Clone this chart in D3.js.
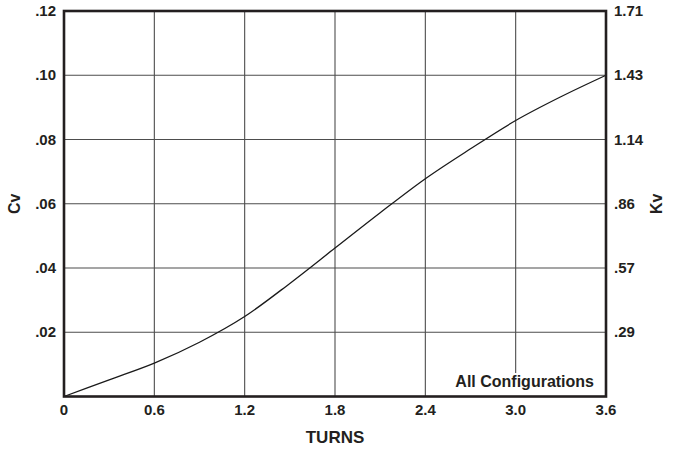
<!DOCTYPE html>
<html>
<head>
<meta charset="utf-8">
<script src="https://cdn.jsdelivr.net/npm/d3@7"></script>
<style>
  body { margin: 0; background: #fff; }
  svg text { font-family: "Liberation Sans", Arial, sans-serif; font-weight: bold; fill: #231f20; }
</style>
</head>
<body>
<svg id="chart" width="678" height="449"></svg>
<script>
// values
const turns = [0, 0.3, 0.6, 0.9, 1.2, 1.5, 1.8, 2.1, 2.4, 2.7, 3.0, 3.3, 3.6];
const cv = [0, 0.0052, 0.0104, 0.0169, 0.0249, 0.0352, 0.0462, 0.0572, 0.0678, 0.0771, 0.0859, 0.0933, 0.10];

const xTicks = [0, 0.6, 1.2, 1.8, 2.4, 3.0, 3.6];
const xTickLabels = ["0", "0.6", "1.2", "1.8", "2.4", "3.0", "3.6"];
const cvTicks = [0.02, 0.04, 0.06, 0.08, 0.10, 0.12];
const cvTickLabels = [".02", ".04", ".06", ".08", ".10", ".12"];
const kvTickLabels = [".29", ".57", ".86", "1.14", "1.43", "1.71"];

const M = { left: 64, right: 606, top: 11, bottom: 396.5 };

const svg = d3.select("#chart");

const x = d3.scaleLinear().domain([0, 3.6]).range([M.left, M.right]);
const y = d3.scaleLinear().domain([0, 0.12]).range([M.bottom, M.top]);

// grid
const grid = svg.append("g").attr("stroke", "#4d4d4d").attr("stroke-width", 1.1);
grid.selectAll(".vgrid")
    .data(xTicks.slice(1, -1))
    .enter()
    .append("line")
    .attr("class", "vgrid")
    .attr("x1", d => x(d)).attr("x2", d => x(d))
    .attr("y1", M.top).attr("y2", M.bottom);
grid.selectAll(".hgrid")
    .data(cvTicks.slice(0, -1))
    .enter()
    .append("line")
    .attr("class", "hgrid")
    .attr("x1", M.left).attr("x2", M.right)
    .attr("y1", d => y(d)).attr("y2", d => y(d));

// curve
const line = d3.line()
    .x((d, i) => x(turns[i]))
    .y(d => y(d))
    .curve(d3.curveMonotoneX);
svg.append("path")
    .datum(cv)
    .attr("d", line)
    .attr("fill", "none")
    .attr("stroke", "#1a1a1a")
    .attr("stroke-width", 1.3);

// note with white background
const note = svg.append("text")
    .attr("x", 594)
    .attr("y", 387)
    .attr("text-anchor", "end")
    .attr("font-size", 16)
    .text("All Configurations");
const bb = note.node().getBBox();
svg.insert("rect", "text")
    .attr("x", bb.x - 3).attr("y", bb.y)
    .attr("width", bb.width + 6).attr("height", M.bottom - bb.y)
    .attr("fill", "#fff");

// frame
svg.append("rect")
    .attr("x", M.left).attr("y", M.top)
    .attr("width", M.right - M.left).attr("height", M.bottom - M.top)
    .attr("fill", "none")
    .attr("stroke", "#231f20")
    .attr("stroke-width", 2.6);

// x labels
svg.selectAll(".xlab")
    .data(xTicks)
    .enter()
    .append("text")
    .attr("class", "xlab")
    .attr("x", d => x(d))
    .attr("y", 415)
    .attr("text-anchor", "middle")
    .attr("font-size", 15)
    .text((d, i) => xTickLabels[i]);

// left labels
svg.selectAll(".cvlab")
    .data(cvTicks)
    .enter()
    .append("text")
    .attr("class", "cvlab")
    .attr("x", 56)
    .attr("y", d => y(d) + 5)
    .attr("text-anchor", "end")
    .attr("font-size", 15)
    .text((d, i) => cvTickLabels[i]);

// right labels
svg.selectAll(".kvlab")
    .data(cvTicks)
    .enter()
    .append("text")
    .attr("class", "kvlab")
    .attr("x", 614)
    .attr("y", d => y(d) + 5)
    .attr("text-anchor", "start")
    .attr("font-size", 15)
    .text((d, i) => kvTickLabels[i]);

// titles
svg.append("text")
    .attr("transform", "translate(20," + ((M.top + M.bottom) / 2) + ") rotate(-90)")
    .attr("text-anchor", "middle")
    .attr("font-size", 16)
    .text("Cv");
svg.append("text")
    .attr("transform", "translate(662," + ((M.top + M.bottom) / 2) + ") rotate(-90)")
    .attr("text-anchor", "middle")
    .attr("font-size", 16)
    .text("Kv");
svg.append("text")
    .attr("x", (M.left + M.right) / 2)
    .attr("y", 443)
    .attr("text-anchor", "middle")
    .attr("font-size", 17)
    .text("TURNS");
</script>
</body>
</html>
